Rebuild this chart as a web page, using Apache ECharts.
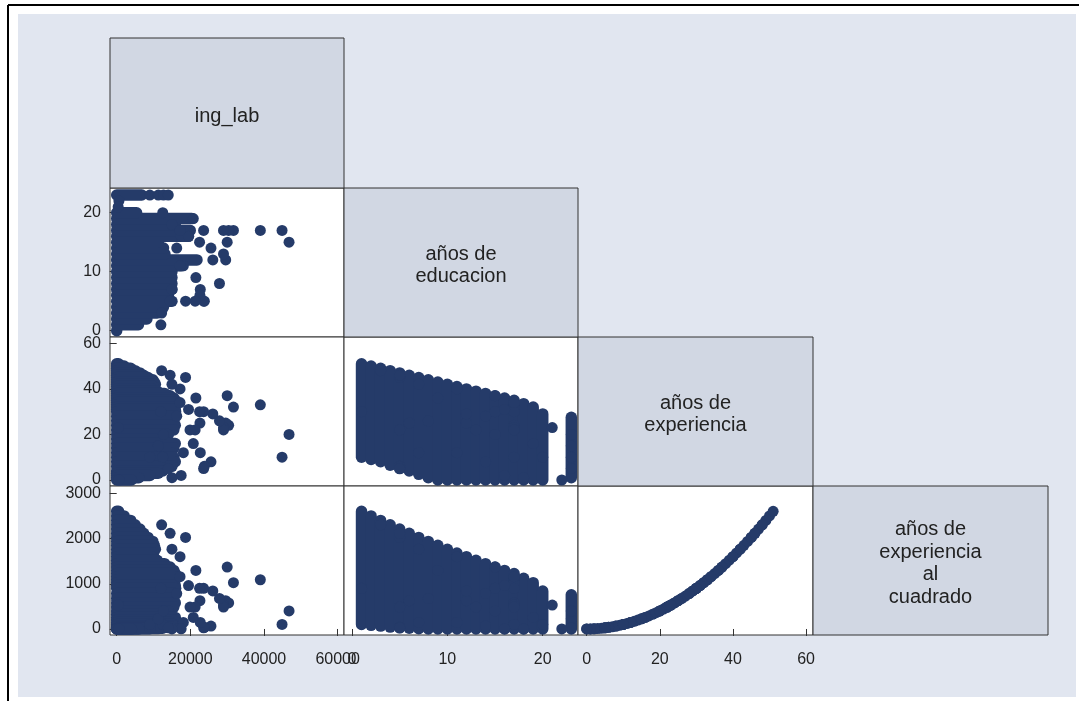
<!DOCTYPE html>
<html>
<head>
<meta charset="utf-8">
<title>Matriz de dispersión</title>
<script src="https://cdn.jsdelivr.net/npm/echarts@6/dist/echarts.min.js"></script>
<style>
  html, body { margin: 0; padding: 0; background: #ffffff; }
  #chart { width: 1079px; height: 701px; }
</style>
</head>
<body>
<div id="chart"></div>
<script>
// ---- Variables shown on the diagonal ----
const varLabels = ['ing_lab', 'años de\neducacion', 'años de\nexperiencia', 'años de\nexperiencia\nal\ncuadrado'];

// ---- Tick labels ----
const incomeTicks = [0, 20000, 40000, 60000];
const educTicks = [0, 10, 20];
const experTicks = [0, 20, 40, 60];
const experSqTicks = [0, 1000, 2000, 3000];

// ---- Dense clouds: ing_lab vs años de educación (income runs from 0 up to the max) ----
const educLevelsIncome = [0, 1, 2, 3, 4, 5, 6, 7, 8, 9, 10, 11, 12, 13, 14, 15, 16, 17, 18, 19, 20, 23];
const incomeMaxByEduc = [0, 5900, 8200, 11000, 12700, 15000, 14000, 15000, 15000, 15000, 15000,
                         17700, 21800, 13100, 12700, 11300, 19500, 19950, 15900, 20400, 5400, 6800];

// ---- Dense clouds: ing_lab vs años de experiencia (and its square) ----
const experLevels = [51, 50, 49, 48, 47, 46, 45, 44, 43, 42, 41, 40, 39, 38, 37, 36, 35, 34, 33, 32, 31, 30,
                     28, 26, 24, 22, 20, 18, 16, 14, 12, 10, 8, 6, 4, 3, 2, 1, 0];
const experSqLevels = [2601, 2500, 2401, 2304, 2209, 2116, 2025, 1936, 1849, 1764, 1681, 1600, 1521, 1444,
                       1369, 1296, 1225, 1156, 1089, 1024, 961, 900, 784, 676, 576, 484, 400, 324, 256,
                       196, 144, 100, 64, 36, 16, 9, 4, 1, 0];
const incomeMaxByExper = [500, 2000, 3800, 5000, 6300, 7300, 8500, 9800, 10200, 10500, 10000, 9500, 11000,
                          13000, 14500, 15500, 15900, 15900, 15900, 15500, 15900, 16000, 15900, 15500,
                          15900, 15500, 14000, 12700, 15900, 15500, 14800, 15500, 15900, 15000, 12500,
                          11300, 9000, 6000, 4000];

// ---- Dense clouds: experiencia range for each year of education ----
const educLevels = [1, 2, 3, 4, 5, 6, 7, 8, 9, 10, 11, 12, 13, 14, 15, 16, 17, 18, 19, 20, 23];
const experMinByEduc = [10, 9, 8, 6.5, 5, 4, 2.5, 1, 0, 0, 0, 0, 0, 0, 0, 0, 0, 0, 0, 0, 1];
const experMaxByEduc = [51, 50, 49, 48, 47, 46, 45, 44, 43, 42, 41, 40, 39, 38, 37, 36, 35, 33.5, 32, 29, 27.5];
const experSqMinByEduc = [100, 81, 64, 42, 25, 16, 6, 1, 0, 0, 0, 0, 0, 0, 0, 0, 0, 0, 0, 0, 1];
const experSqMaxByEduc = [2601, 2500, 2401, 2304, 2209, 2116, 2025, 1936, 1849, 1764, 1681, 1600, 1521,
                          1444, 1369, 1296, 1225, 1122, 1024, 841, 756];

// ---- Individual observations outside the dense clouds ----
const obsIncome = [46800, 44900, 39000, 31700, 30400, 30000, 29600, 29000, 29000, 27900, 26100, 25600,
                   23600, 23800, 23600, 22700, 22500, 22600, 21500, 21300, 20800, 19900, 18700, 18100,
                   17200, 17500, 15000, 19500, 17200, 12200, 14500, 15000, 12500, 12000, 16300, 9000,
                   11300, 12700, 14000, 600, 400];
const obsEduc = [15, 17, 17, 17, 17, 15, 12, 17, 13, 8, 12, 14, 17, 5, 5, 7, 15, 6, 9, 5, 19, 17, 5, 11,
                 11, 16, 18, 16, 17, 3, 5, 7, 20, 1, 14, 23, 23, 23, 23, 22, 21];
const obsExper = [20, 10, 33, 32, 24, 37, 25, 23, 22, 26, 29, 8, 30, 6, 5, 12, 30, 25, 36, 22, 16, 22, 45,
                  12, 40, 2, 1, 31, 34, 48, 46, 42, 10, 30, 28, 10, 15, 20, 5, 0, 23];
const obsExperSq = [400, 100, 1089, 1024, 576, 1369, 625, 529, 484, 676, 841, 64, 900, 36, 25, 144, 900,
                    625, 1296, 484, 256, 484, 2025, 144, 1600, 4, 1, 961, 1156, 2304, 2116, 1764, 100,
                    900, 784, 100, 225, 400, 25, 0, 529];

// ---- experiencia vs experiencia al cuadrado ----
const curveExper = [0, 1, 2, 3, 4, 5, 6, 7, 8, 9, 10, 11, 12, 13, 14, 15, 16, 17, 18, 19, 20, 21, 22, 23, 24,
                    25, 26, 27, 28, 29, 30, 31, 32, 33, 34, 35, 36, 37, 38, 39, 40, 41, 42, 43, 44, 45, 46,
                    47, 48, 49, 50, 51];
const curveExperSq = [0, 1, 4, 9, 16, 25, 36, 49, 64, 81, 100, 121, 144, 169, 196, 225, 256, 289, 324, 361,
                      400, 441, 484, 529, 576, 625, 676, 729, 784, 841, 900, 961, 1024, 1089, 1156, 1225,
                      1296, 1369, 1444, 1521, 1600, 1681, 1764, 1849, 1936, 2025, 2116, 2209, 2304, 2401,
                      2500, 2601];

// ---- Styling ----
const MARK = '#253B69';
const DOT = 11;          // marker diameter
const RUN = 11.5;        // thickness of a run of overlapping markers
const FONT = '"Liberation Sans", Arial, sans-serif';
const TEXT = '#222222';
const BORDER = '#333333';

// Cell layout of the lower-triangular matrix
const colX = [110, 344, 578, 813, 1048];
const rowY = [38, 188, 337, 486, 635];

// Value ranges of each variable on its axis
const rangeIncome = [-1820, 61720];
const rangeEducX = [-0.84, 23.70];
const rangeExperX = [-2.38, 61.9];
const rangeEducY = [-1.07, 24.19];
const rangeExperY = [-2.63, 62.77];
const rangeExperSqY = [-133, 3162];

// Scatter cells: [column, row, x range, y range, x ticks, y ticks]
const cells = [
  [0, 1, rangeIncome, rangeEducY, incomeTicks, educTicks],
  [0, 2, rangeIncome, rangeExperY, incomeTicks, experTicks],
  [0, 3, rangeIncome, rangeExperSqY, incomeTicks, experSqTicks],
  [1, 2, rangeEducX, rangeExperY, educTicks, experTicks],
  [1, 3, rangeEducX, rangeExperSqY, educTicks, experSqTicks],
  [2, 3, rangeExperX, rangeExperSqY, experTicks, experSqTicks]
];

const grids = [], xAxes = [], yAxes = [];
cells.forEach(([c, r, xr, yr, xt, yt]) => {
  grids.push({
    left: colX[c], top: rowY[r],
    width: colX[c + 1] - colX[c], height: rowY[r + 1] - rowY[r],
    show: true, backgroundColor: '#ffffff', borderColor: BORDER, borderWidth: 1
  });
  const showX = r === 3, showY = c === 0;
  const idx = grids.length - 1;
  xAxes.push({
    type: 'value', gridIndex: idx, min: xr[0], max: xr[1],
    axisLine: { show: false }, splitLine: { show: false },
    axisTick: { show: showX, inside: false, length: 7, customValues: xt, lineStyle: { color: BORDER, width: 1 } },
    axisLabel: { show: showX, customValues: xt, margin: 17, fontSize: 16, fontFamily: FONT, color: TEXT,
                 formatter: v => String(v) }
  });
  yAxes.push({
    type: 'value', gridIndex: idx, min: yr[0], max: yr[1],
    axisLine: { show: false }, splitLine: { show: false },
    axisTick: { show: showY, inside: false, length: 7, customValues: yt, lineStyle: { color: BORDER, width: 1 } },
    axisLabel: { show: showY, customValues: yt, margin: 9, fontSize: 16, fontFamily: FONT, color: TEXT,
                 formatter: v => String(v) }
  });
});

// A run of overlapping markers along one axis, drawn as a capsule of marker width
function runSeries(axisIdx, data, horizontal) {
  return {
    type: 'custom', xAxisIndex: axisIdx, yAxisIndex: axisIdx, data,
    encode: horizontal ? { x: [1, 2], y: 0 } : { x: 0, y: [1, 2] },
    silent: true, animation: false,
    renderItem(params, api) {
      const k = api.value(0), lo = api.value(1), hi = api.value(2);
      const a = horizontal ? api.coord([lo, k]) : api.coord([k, lo]);
      const b = horizontal ? api.coord([hi, k]) : api.coord([k, hi]);
      const r = RUN / 2;
      const x0 = Math.min(a[0], b[0]) - r, x1 = Math.max(a[0], b[0]) + r;
      const y0 = Math.min(a[1], b[1]) - r, y1 = Math.max(a[1], b[1]) + r;
      return { type: 'rect', shape: { x: x0, y: y0, width: x1 - x0, height: y1 - y0, r: r },
               style: { fill: MARK } };
    }
  };
}

function dots(axisIdx, xs, ys) {
  return {
    type: 'scatter', xAxisIndex: axisIdx, yAxisIndex: axisIdx,
    data: xs.map((v, i) => [v, ys[i]]),
    symbol: 'circle', symbolSize: DOT, itemStyle: { color: MARK, opacity: 1 },
    silent: true, animation: false
  };
}

const series = [
  // ing_lab vs educación
  runSeries(0, educLevelsIncome.map((e, i) => [e, 0, incomeMaxByEduc[i]]), true),
  dots(0, obsIncome, obsEduc),
  // ing_lab vs experiencia
  runSeries(1, experLevels.map((x, i) => [x, 0, incomeMaxByExper[i]]), true),
  dots(1, obsIncome, obsExper),
  // ing_lab vs experiencia al cuadrado
  runSeries(2, experSqLevels.map((x, i) => [x, 0, incomeMaxByExper[i]]), true),
  dots(2, obsIncome, obsExperSq),
  // educación vs experiencia
  runSeries(3, educLevels.map((e, i) => [e, experMinByEduc[i], experMaxByEduc[i]]), false),
  dots(3, obsEduc, obsExper),
  // educación vs experiencia al cuadrado
  runSeries(4, educLevels.map((e, i) => [e, experSqMinByEduc[i], experSqMaxByEduc[i]]), false),
  dots(4, obsEduc, obsExperSq),
  // experiencia vs experiencia al cuadrado
  dots(5, curveExper, curveExperSq),
  dots(5, obsExper, obsExperSq)
];

// Diagonal name boxes
const diagonal = varLabels.map((label, i) => {
  const x = colX[i], y = rowY[i], w = colX[i + 1] - colX[i], h = rowY[i + 1] - rowY[i];
  return {
    type: 'group', z: 10,
    children: [
      { type: 'rect', shape: { x, y, width: w, height: h },
        style: { fill: '#D1D7E3', stroke: BORDER, lineWidth: 1 } },
      { type: 'text', style: {
          x: x + w / 2, y: y + h / 2 + 3, text: label,
          align: 'center', verticalAlign: 'middle', textAlign: 'center', textVerticalAlign: 'middle',
          fontSize: 20, fontFamily: FONT, lineHeight: 22.5, fill: TEXT } }
    ]
  };
});

const chart = echarts.init(document.getElementById('chart'), null, { renderer: 'canvas' });
chart.setOption({
  animation: false,
  backgroundColor: '#ffffff',
  graphic: [
    { type: 'rect', z: -10, shape: { x: 18, y: 14, width: 1058, height: 683 }, style: { fill: '#E1E6F0' } },
    { type: 'line', z: -5, shape: { x1: 8, y1: 5, x2: 1079, y2: 5 }, style: { stroke: '#000', lineWidth: 2 } },
    { type: 'line', z: -5, shape: { x1: 8, y1: 5, x2: 8, y2: 701 }, style: { stroke: '#000', lineWidth: 2 } },
    ...diagonal
  ],
  grid: grids,
  xAxis: xAxes,
  yAxis: yAxes,
  series
});
</script>
</body>
</html>
